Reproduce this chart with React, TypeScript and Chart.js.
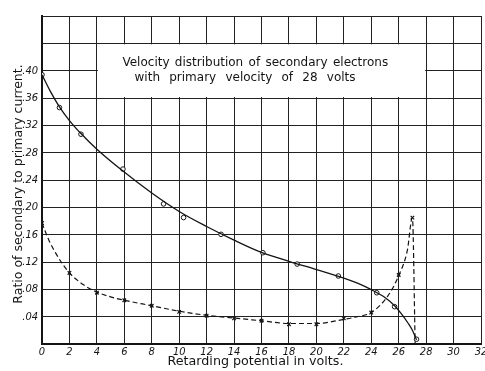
import React, { useEffect, useRef } from 'react';
import { Chart, registerables } from 'chart.js';
Chart.register(...registerables);

// Solid curve: observed points (open circles) and the drawn smooth curve
const solidMarkX = [0, 1.27, 2.84, 5.9, 8.86, 10.32, 13.05, 16.1, 18.6, 21.6, 24.4, 25.7, 27.3];
const solidMarkY = [0.394, 0.346, 0.307, 0.256, 0.205, 0.185, 0.1605, 0.1336, 0.117, 0.0995, 0.075, 0.0546, 0.007];
const solidCurveX = [0, 0.6, 1.27, 2, 2.84, 4, 5.9, 8, 10, 12, 14, 16, 18, 20, 22, 23, 24, 25, 25.7, 26.2, 26.7, 27.0, 27.3];
const solidCurveY = [0.394, 0.37, 0.347, 0.327, 0.308, 0.285, 0.253, 0.221, 0.194, 0.172, 0.152, 0.134, 0.121, 0.109, 0.0965, 0.089, 0.0795, 0.068, 0.056, 0.044, 0.03, 0.02, 0.006];

// Dashed curve: observed points (crosses) and the drawn smooth curve
const dashMarkX = [0, 2, 4, 6, 8, 10, 12, 14, 16, 18, 20, 22, 24, 26, 27.0];
const dashMarkY = [0.177, 0.104, 0.075, 0.064, 0.056, 0.047, 0.0414, 0.0376, 0.034, 0.029, 0.029, 0.0376, 0.046, 0.101, 0.185];
const dashCurveX = [0, 0.5, 1, 1.5, 2, 3, 4, 5, 6, 8, 10, 12, 14, 16, 18, 20, 22, 23, 24, 25.2, 26, 26.63, 27.0, 27.2];
const dashCurveY = [0.177, 0.152, 0.133, 0.117, 0.104, 0.087, 0.076, 0.069, 0.064, 0.056, 0.048, 0.042, 0.038, 0.034, 0.03, 0.03, 0.036, 0.04, 0.046, 0.07, 0.1, 0.137, 0.185, 0.0];

const titleLines = ['Velocity distribution of secondary electrons', 'with primary velocity of 28 volts'];
const xTitle = 'Retarding potential in volts.';
const yTitle = 'Ratio of secondary to primary current.';

const INK = '#141414';
const FONT = '"DejaVu Sans", sans-serif';
const TICK_FONT = '"Liberation Sans Narrow", "DejaVu Sans Condensed", "DejaVu Sans", sans-serif';

export default function App() {
  const ref = useRef<HTMLCanvasElement>(null);
  useEffect(() => {
    document.body.style.margin = '0';
    document.body.style.background = '#fff';
    const boxPlugin = {
      id: 'titleBox',
      beforeDatasetsDraw(chart: any) {
        const { ctx, scales } = chart;
        const x = scales.x, y = scales.y;
        const l = x.getPixelForValue(4) + 1;
        const r = x.getPixelForValue(28) - 1;
        const t = y.getPixelForValue(0.44) + 1;
        const b = y.getPixelForValue(0.36) - 1;
        ctx.save();
        ctx.fillStyle = '#fff';
        ctx.fillRect(l, t, r - l, b - t);
        ctx.fillStyle = INK;
        ctx.font = '12px ' + FONT;
        ctx.textAlign = 'center';
        ctx.textBaseline = 'middle';
        (ctx as any).wordSpacing = '1.5px';
        ctx.fillText(titleLines[0], x.getPixelForValue(15.55), y.getPixelForValue(0.411));
        (ctx as any).wordSpacing = '5.4px';
        ctx.fillText(titleLines[1], x.getPixelForValue(14.8), y.getPixelForValue(0.389));
        (ctx as any).wordSpacing = '0px';
        ctx.restore();
      },
      afterDraw(chart: any) {
        const { ctx, chartArea } = chart;
        ctx.save();
        ctx.fillStyle = INK;
        ctx.textAlign = 'center';
        ctx.textBaseline = 'middle';
        ctx.font = '12.7px ' + FONT;
        ctx.fillText(xTitle, chartArea.left + 213.5, chartArea.bottom + 18);
        ctx.translate(chartArea.left - 23, chartArea.top + 168);
        ctx.rotate(-Math.PI / 2);
        ctx.font = '12.5px ' + FONT;
        ctx.fillText(yTitle, 0, 0);
        ctx.restore();
      },
    };
    const chart = new Chart(ref.current!, {
      type: 'line',
      data: {
        datasets: [
          {
            data: solidCurveX.map((v, i) => ({ x: v, y: solidCurveY[i] })),
            borderColor: INK,
            borderWidth: 1.3,
            cubicInterpolationMode: 'monotone',
            pointRadius: 0,
            fill: false,
          },
          {
            data: solidMarkX.map((v, i) => ({ x: v, y: solidMarkY[i] })),
            showLine: false,
            pointStyle: 'circle',
            pointRadius: 2.3,
            pointBackgroundColor: '#fff',
            pointBorderColor: INK,
            pointBorderWidth: 1,
          },
          {
            data: dashCurveX.map((v, i) => ({ x: v, y: dashCurveY[i] })),
            borderColor: INK,
            borderWidth: 1.2,
            borderDash: [5, 3],
            cubicInterpolationMode: 'monotone',
            pointRadius: 0,
            fill: false,
          },
          {
            data: dashMarkX.map((v, i) => ({ x: v, y: dashMarkY[i] })),
            showLine: false,
            pointStyle: 'crossRot',
            pointRadius: 2.5,
            pointBorderColor: INK,
            pointBorderWidth: 1.2,
          },
        ],
      },
      options: {
        responsive: false,
        animation: false,
        layout: { padding: { top: 16, right: 19, left: 0, bottom: 0 } },
        plugins: { legend: { display: false }, tooltip: { enabled: false } },
        scales: {
          x: {
            type: 'linear',
            min: 0,
            max: 32,
            ticks: {
              stepSize: 2,
              autoSkip: false,
              maxRotation: 0,
              padding: 2,
              color: INK,
              font: { family: TICK_FONT, size: 11, style: 'italic' },
            },
            grid: { color: '#222', lineWidth: 1, drawTicks: false },
            border: { color: INK, width: 2 },
            afterFit(s: any) { s.height = 27; },
          },
          y: {
            type: 'linear',
            min: 0,
            max: 0.48,
            ticks: {
              stepSize: 0.04,
              padding: 4,
              color: INK,
              font: { family: TICK_FONT, size: 11, style: 'italic' },
              callback: (v: any) => {
                const n = Math.round(Number(v) * 100);
                if (n < 4 || n > 40) return '';
                return '.' + String(n).padStart(2, '0');
              },
            },
            grid: { color: '#222', lineWidth: 1, drawTicks: false },
            border: { color: INK, width: 2 },
            afterFit(s: any) { s.width = 42; },
          },
        },
      },
      plugins: [boxPlugin],
    } as any);
    return () => chart.destroy();
  }, []);
  return (
    <div style={{ width: 485, height: 371, overflow: 'hidden', position: 'relative', background: '#fff' }}>
      <canvas ref={ref} width={500} height={371} style={{ display: 'block' }} />
    </div>
  );
}
